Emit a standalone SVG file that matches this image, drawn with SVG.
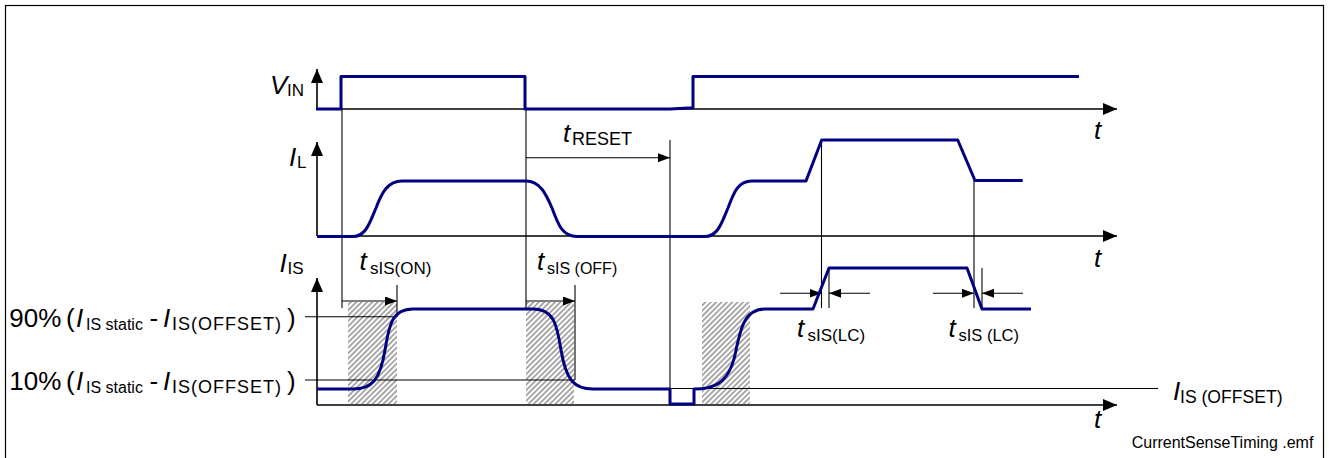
<svg xmlns="http://www.w3.org/2000/svg" width="1329" height="458" viewBox="0 0 1329 458">
<defs>
<style>
.ax{stroke:#000;stroke-width:1.6;fill:none}
.thin{stroke:#000;stroke-width:1.1;fill:none}
.wave{stroke:#000080;stroke-width:3;fill:none;stroke-linejoin:round}
.lbl{font-family:"Liberation Sans",Arial,sans-serif;font-size:26px;fill:#000}
.it{font-style:italic}
.sub{font-size:17px}
.note{font-family:"Liberation Sans",Arial,sans-serif;font-size:16px;fill:#000}
</style>
<marker id="ax" markerUnits="userSpaceOnUse" markerWidth="14" markerHeight="12" refX="14" refY="6" orient="auto"><path d="M0,0 L14,6 L0,12 Z" fill="#000"/></marker>
<marker id="dim" markerUnits="userSpaceOnUse" markerWidth="12" markerHeight="9" refX="12" refY="4.5" orient="auto"><path d="M0,0 L12,4.5 L0,9 Z" fill="#000"/></marker>
<pattern id="hatch" patternUnits="userSpaceOnUse" width="3.8" height="3.8" patternTransform="rotate(45)"><line x1="1.9" y1="0" x2="1.9" y2="3.8" stroke="#444" stroke-width="0.9"/></pattern>
</defs>
<rect id="frame" x="5.5" y="5.5" width="1318" height="470" fill="none" stroke="#000" stroke-width="1.2"/>
<g id="hatches" fill="url(#hatch)">
<rect x="348" y="302" width="49" height="102"/>
<rect x="526" y="302" width="48" height="102"/>
<rect x="702" y="302" width="48" height="102"/>
</g>
<g id="axes" class="ax">
<line x1="317" y1="109" x2="317" y2="69" marker-end="url(#ax)"/>
<line x1="317" y1="109" x2="1117" y2="109" marker-end="url(#ax)"/>
<line x1="317" y1="236" x2="317" y2="142" marker-end="url(#ax)"/>
<line x1="317" y1="236" x2="1117" y2="236" marker-end="url(#ax)"/>
<line x1="317" y1="405" x2="317" y2="278" marker-end="url(#ax)"/>
<line x1="317" y1="405" x2="1117" y2="405" marker-end="url(#ax)"/>
</g>
<g id="connectors" class="thin">
<line x1="342" y1="109" x2="342" y2="308"/>
<line x1="526" y1="109" x2="526" y2="308"/>
<line x1="670" y1="140" x2="670" y2="389"/>
<line x1="397" y1="285" x2="397" y2="317"/>
<line x1="575" y1="285" x2="575" y2="380"/>
<line x1="821.5" y1="140" x2="821.5" y2="308"/>
<line x1="829" y1="268" x2="829" y2="308"/>
<line x1="974" y1="180" x2="974" y2="308"/>
<line x1="982" y1="268" x2="982" y2="308"/>
<line x1="305" y1="316.7" x2="397" y2="316.7"/>
<line x1="305" y1="380" x2="575" y2="380"/>
<line x1="670" y1="388.5" x2="1158" y2="388.5"/>
<line x1="526" y1="157.7" x2="670" y2="157.7" marker-end="url(#dim)"/>
<line x1="342" y1="301" x2="397" y2="301" marker-end="url(#dim)"/>
<line x1="526" y1="301" x2="575" y2="301" marker-end="url(#dim)"/>
<line x1="780" y1="293.3" x2="821.5" y2="293.3" marker-end="url(#dim)"/>
<line x1="870" y1="293.3" x2="829" y2="293.3" marker-end="url(#dim)"/>
<line x1="933" y1="293.3" x2="974" y2="293.3" marker-end="url(#dim)"/>
<line x1="1023" y1="293.3" x2="982" y2="293.3" marker-end="url(#dim)"/>
</g>
<g id="waveforms" class="wave">
<path id="vin" d="M316,109 H341 V76.5 H525 V109 H670 L693,107.7 V76.5 H1079"/>
<path id="il" d="M317,236.5 H353 C366,236.5 370,222 376,208 C382,192 388,181 402,181 H526 C540,181 546,194 552,208 C558,224 562,236.5 577,236.5 H705 C718,236.5 722,222 728,208 C734,192 738,181 752,181 H806 L821.7,140 H957.7 L975,180.5 H1022.7"/>
<path id="is" d="M317,389 H353 C372,389 380,380 385,350 C389,325 392,309 413,309 H533 C554,309 557,325 561,350 C566,380 574,389 593,389 H670 V404 H694 V389 C712,389 728,385 735,355 C740,330 744,309 765,309 H813 L829,268 H967 L982,309 H1031"/>
</g>
<g id="labels">
<text class="lbl"><tspan class="it" x="270" y="94">V</tspan><tspan class="sub" x="287" y="96">IN</tspan></text>
<text class="lbl"><tspan class="it" x="289" y="166">I</tspan><tspan class="sub" x="297" y="168">L</tspan></text>
<text class="lbl"><tspan class="it" x="279.5" y="272">I</tspan><tspan class="sub" x="287.5" y="274">IS</tspan></text>
<text class="lbl it" x="1094" y="139">t</text>
<text class="lbl it" x="1094" y="267">t</text>
<text class="lbl it" x="1094" y="428">t</text>
<text class="lbl"><tspan class="it" x="563" y="142">t</tspan><tspan class="sub" style="font-size:18px" x="572" y="145">RESET</tspan></text>
<text class="lbl"><tspan class="it" x="359.5" y="270">t</tspan><tspan class="sub" x="370" y="274">sIS(ON)</tspan></text>
<text class="lbl"><tspan class="it" x="537" y="270">t</tspan><tspan class="sub" style="font-size:16px" x="547" y="274">sIS (OFF)</tspan></text>
<text class="lbl"><tspan class="it" x="797" y="337">t</tspan><tspan class="sub" x="807.5" y="341">sIS(LC)</tspan></text>
<text class="lbl"><tspan class="it" x="948.5" y="337">t</tspan><tspan class="sub" style="font-size:16.5px" x="958.5" y="341">sIS (LC)</tspan></text>
<text class="lbl"><tspan x="9.3" y="327.3">90%</tspan><tspan x="66" y="327.3">(</tspan><tspan class="it" x="76" y="327.3">I</tspan><tspan class="sub" style="font-size:16px" x="86" y="330.3">IS static</tspan><tspan x="149.5" y="327.3">-</tspan><tspan class="it" x="163" y="327.3">I</tspan><tspan class="sub" style="font-size:18px;letter-spacing:1px" x="172" y="330.3">IS(OFFSET)</tspan><tspan x="287" y="327.3">)</tspan></text>
<text class="lbl"><tspan x="9.3" y="389.5">10%</tspan><tspan x="66" y="389.5">(</tspan><tspan class="it" x="76" y="389.5">I</tspan><tspan class="sub" style="font-size:16px" x="86" y="392.5">IS static</tspan><tspan x="149.5" y="389.5">-</tspan><tspan class="it" x="163" y="389.5">I</tspan><tspan class="sub" style="font-size:18px;letter-spacing:1px" x="172" y="392.5">IS(OFFSET)</tspan><tspan x="287" y="389.5">)</tspan></text>
<text class="lbl"><tspan class="it" x="1173" y="400">I</tspan><tspan class="sub" style="font-size:17.6px" x="1180" y="402.7">IS (OFFSET)</tspan></text>
<text class="note" x="1131.7" y="448.3">CurrentSenseTiming .emf</text>
</g>
</svg>
